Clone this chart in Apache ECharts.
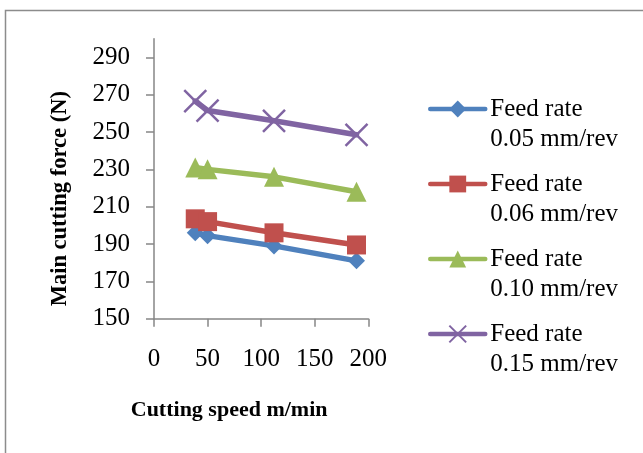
<!DOCTYPE html>
<html>
<head>
<meta charset="utf-8">
<script src="https://cdn.jsdelivr.net/npm/echarts@6/dist/echarts.min.js"></script>
<style>
  html, body { margin: 0; padding: 0; background: #fff; }
  #chart { width: 643px; height: 453px; }
</style>
</head>
<body>
<div id="chart"></div>
<script>
// Cutting speed (m/min) at which the force was measured
const cuttingSpeed = [38.5, 50, 112, 189];

// Main cutting force (N) for each feed rate
const force005 = [196, 194.5, 189, 181];
const force006 = [203.5, 202, 196, 189.5];
const force010 = [231, 230, 226, 218];
const force015 = [266.5, 261.5, 256, 248.5];

const seriesNames = [
  'Feed rate 0.05 mm/rev',
  'Feed rate 0.06 mm/rev',
  'Feed rate 0.10 mm/rev',
  'Feed rate 0.15 mm/rev'
];

const xTicks = [0, 50, 100, 150, 200];
const yTicks = [150, 170, 190, 210, 230, 250, 270, 290];

const FONT = "'Liberation Serif', 'Times New Roman', serif";
const AXIS_GREY = '#868686';
const LEGEND_LINE = 30.6;

function pairs(xs, ys) {
  return xs.map((x, i) => [x, ys[i]]);
}

const chart = echarts.init(document.getElementById('chart'), null, { renderer: 'canvas' });

function lineSeries(name, values, color, symbol, size, extra) {
  return Object.assign({
    name: name,
    type: 'line',
    data: pairs(cuttingSpeed, values),
    color: color,
    symbol: symbol,
    symbolSize: size,
    showAllSymbol: true,
    lineStyle: { width: 5.5, color: color, join: 'round', cap: 'round' },
    itemStyle: { color: color },
    emphasis: { disabled: true },
    animation: false
  }, extra || {});
}

// One legend block per series. The label is split over two lines with an
// empty line on top, so the icon sits level with "Feed rate".
const legendFirstLine = [109, 184, 259, 334];
const legends = seriesNames.map((name, i) => ({
  data: [name],
  left: 428,
  top: legendFirstLine[i] - 1.5 * LEGEND_LINE,
  orient: 'vertical',
  padding: 0,
  itemWidth: 55,
  itemHeight: 21,
  itemGap: 0,
  selectedMode: false,
  lineStyle: { width: 4.5 },
  formatter: function (n) {
    const cut = n.indexOf(' ', n.indexOf('rate'));
    return '\n' + n.slice(0, cut) + '\n' + n.slice(cut + 1);
  },
  textStyle: {
    fontFamily: FONT,
    fontSize: 25,
    color: '#000',
    lineHeight: LEGEND_LINE
  }
}));

chart.setOption({
  backgroundColor: '#fff',
  animation: false,
  graphic: [{
    type: 'rect',
    shape: { x: 5.5, y: 10.5, width: 700, height: 500 },
    style: { fill: 'none', stroke: '#8c8c8c', lineWidth: 1.5 },
    silent: true
  }],
  legend: legends,
  grid: { left: 154, top: 38.7, right: 274.7, bottom: 134.3, containLabel: false },
  xAxis: {
    type: 'value',
    min: 0,
    max: 200,
    interval: 50,
    name: 'Cutting speed m/min',
    nameLocation: 'middle',
    nameGap: 81,
    nameTextStyle: {
      fontFamily: FONT, fontSize: 22, fontWeight: 'bold', color: '#000',
      padding: [0, 64, 0, 0]
    },
    axisLine: { show: true, lineStyle: { color: AXIS_GREY, width: 1.5 } },
    axisTick: { show: true, length: 8, lineStyle: { color: AXIS_GREY, width: 1.5 } },
    axisLabel: {
      fontFamily: FONT, fontSize: 25, color: '#000', margin: 28,
      customValues: xTicks
    },
    splitLine: { show: false }
  },
  yAxis: {
    type: 'value',
    min: 150,
    max: 300,
    interval: 20,
    name: 'Main cutting force (N)',
    nameLocation: 'middle',
    nameGap: 82,
    nameRotate: 90,
    nameTextStyle: {
      fontFamily: FONT, fontSize: 22.5, fontWeight: 'bold', color: '#000',
      padding: [0, 40, 0, 0]
    },
    axisLine: { show: true, lineStyle: { color: AXIS_GREY, width: 1.5 } },
    axisTick: { show: true, length: 8, lineStyle: { color: AXIS_GREY, width: 1.5 }, customValues: yTicks },
    axisLabel: {
      fontFamily: FONT, fontSize: 25, color: '#000', margin: 24,
      customValues: yTicks
    },
    splitLine: { show: false }
  },
  series: [
    lineSeries(seriesNames[0], force005, '#4F81BD', 'diamond', 17),
    lineSeries(seriesNames[1], force006, '#C0504D', 'rect', 19),
    lineSeries(seriesNames[2], force010, '#9BBB59', 'triangle', 20),
    lineSeries(seriesNames[3], force015, '#8064A2', 'path://M0,0L10,10M10,0L0,10', 22, {
      itemStyle: { color: '#8064A2', borderColor: '#8064A2', borderWidth: 2.5 }
    })
  ]
});
</script>
</body>
</html>
